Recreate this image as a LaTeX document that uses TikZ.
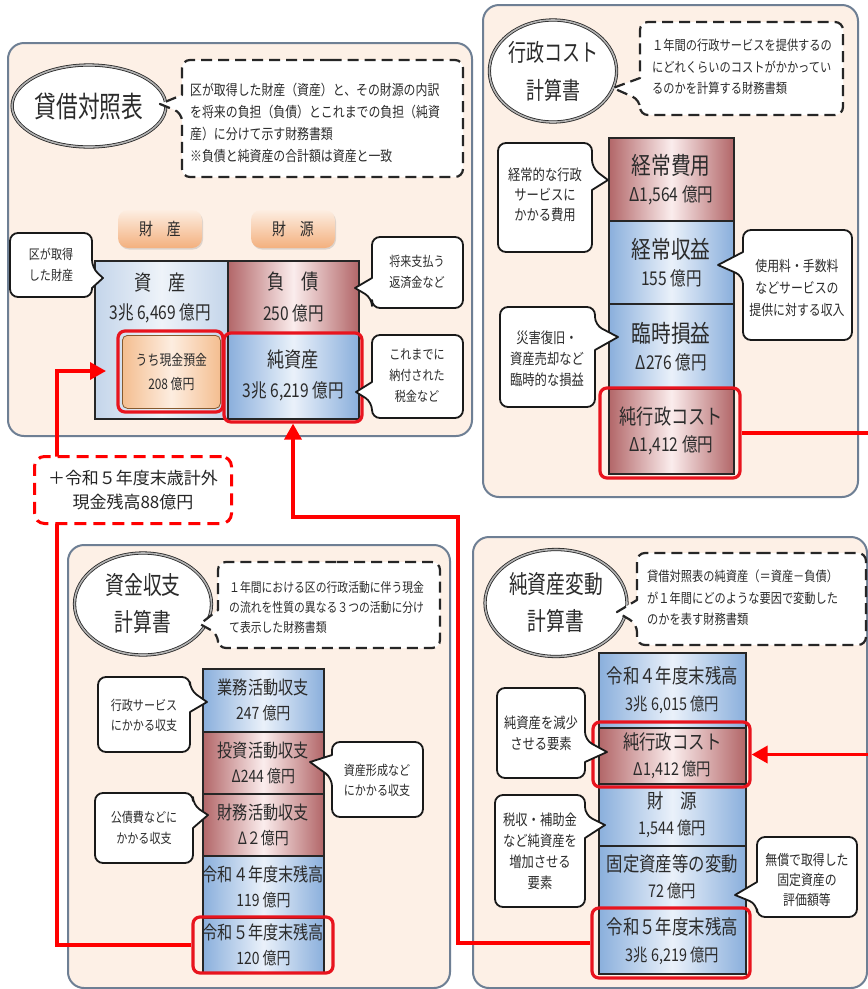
\documentclass[tikz,border=0pt]{standalone}
\usepackage{fontspec}
\setmainfont{Noto Sans CJK JP}[FakeStretch=0.82]
\newfontfamily\titlefont{Noto Sans CJK JP}[FakeStretch=0.75]
\newfontfamily\plainfont{Noto Sans CJK JP}
\usetikzlibrary{shapes.geometric,arrows.meta,shadows,calc,fit}
\definecolor{panelfill}{HTML}{FDF0E6}
\definecolor{panelline}{HTML}{6E7F94}
\definecolor{bluedark}{HTML}{8AAFDC}
\definecolor{bluelight}{HTML}{EAF1FA}
\definecolor{lblued}{HTML}{C4D5EA}
\definecolor{lbluel}{HTML}{EEF3F9}
\definecolor{reddark}{HTML}{B26668}
\definecolor{redlight}{HTML}{FBEDED}
\definecolor{tagtop}{HTML}{FDEEE2}
\definecolor{tagbot}{HTML}{F3B07E}
\definecolor{cashdark}{HTML}{F4BE90}
\definecolor{cashlight}{HTML}{FDEDE0}
\definecolor{txt}{HTML}{2B2B2B}
\definecolor{framered}{HTML}{E8141E}
\newcommand\fs[2]{\fontsize{#1}{#2}\selectfont}
% callout with tail on the right side
\newcommand\calloutR[9][callbox]{%
  \draw[#1, rounded corners=8pt] ({(#2+#4)/2},#3) -- (#4,#3) -- (#4,#6) [sharp corners] -- (#8,#9) -- (#4,#7) [rounded corners=8pt] -- (#4,#5) -- (#2,#5) -- (#2,#3) -- cycle;}
% callout with tail on the left side
\newcommand\calloutL[9][callbox]{%
  \draw[#1, rounded corners=8pt] ({(#2+#4)/2},#3) -- (#4,#3) -- (#4,#5) -- (#2,#5) -- (#2,#7) [sharp corners] -- (#8,#9) -- (#2,#6) [rounded corners=8pt] -- (#2,#3) -- cycle;}
\tikzset{
  panel/.style={draw=panelline, line width=2pt, fill=panelfill, rounded corners=16pt},
  titleell/.style={ellipse, draw=black!85, line width=0.8pt, double=black!30, double distance=1.6pt, fill=white, inner sep=0pt, align=center, text=txt},
  dashbox/.style={draw=black!85, line width=2.2pt, dash pattern=on 11pt off 6pt, fill=white, line join=round},
  callbox/.style={draw=black!90, line width=1.8pt, fill=white, line join=round},
  ctext/.style={align=center, text=txt, inner sep=0pt},
  dtext/.style={align=left, text=txt, inner sep=0pt, anchor=west},
  stackbox/.style={rectangle, draw=black!85, line width=1.6pt, inner sep=0pt, align=center, text=txt, anchor=north west},
  bluebox/.style={stackbox, left color=bluedark, right color=bluedark, middle color=bluelight},
  lbluebox/.style={stackbox, left color=lblued, right color=lblued, middle color=lbluel},
  redbox/.style={stackbox, left color=reddark, right color=reddark, middle color=redlight},
  tagbox/.style={rectangle, rounded corners=10pt, top color=tagtop, bottom color=tagbot, draw=none, text=txt, drop shadow={opacity=0.25, shadow xshift=1pt, shadow yshift=-1.5pt}, font=\fs{17}{20}},
  cashbox/.style={rectangle, rounded corners=5pt, draw=brown!70!black, line width=0.8pt, left color=cashdark, right color=cashdark, middle color=cashlight, align=center, text=txt, inner sep=0pt, anchor=north west},
  redframe/.style={rectangle, draw=framered, line width=3.2pt, rounded corners=7pt, inner sep=0pt},
  redarrow/.style={draw=red, line width=3.5pt, -{Triangle[length=16pt,width=17pt]}},
  reddash/.style={rectangle, draw=red, line width=3pt, dash pattern=on 12pt off 7pt, rounded corners=10pt, fill=white, align=center, font=\plainfont\fs{17}{24}, text=black!85, anchor=north west}
}
\begin{document}
\begin{tikzpicture}[x=1pt,y=-1pt]
\clip (0,0) rectangle (868,989);
\fill[white] (0,0) rectangle (868,989);

%================ Balance sheet =================
\draw[panel] (8,43) rectangle (472,436);
\node[titleell, minimum width=148pt, minimum height=82pt, font=\titlefont\fs{29}{32}] (bsTitle) at (89,106) {貸借対照表};
\calloutL[dashbox]{182}{60}{463}{177}{95}{113}{160}{104}
\node[dtext, font=\fs{14.5}{22}] (bsDesc) at (190,123) {区が取得した財産（資産）と、その財源の内訳\\を将来の負担（負債）とこれまでの負担（純資\\産）に分けて示す財務書類\\※負債と純資産の合計額は資産と一致};
\node[tagbox, minimum width=84pt, minimum height=38pt] (tagA) at (160,229) {財　産};
\node[tagbox, minimum width=84pt, minimum height=38pt] (tagB) at (293,229) {財　源};
\node[lbluebox, minimum width=133pt, minimum height=158pt] (bsAsset) at (94,260) {};
\node[ctext, font=\fs{19}{29}] (bsAssetT) at (160,298) {{\fs{21}{29}資　産}\\3兆 6,469 億円};
\node[redbox, minimum width=131pt, minimum height=72pt, font=\fs{19}{31}] (bsLiab) at (227,260) {{\fs{21}{31}負　債}\\250 億円};
\node[bluebox, minimum width=131pt, minimum height=86pt, font=\fs{19}{30}] (bsNet) at (227,332) {{\fs{21}{30}純資産}\\3兆 6,219 億円};
\node[cashbox, minimum width=98pt, minimum height=73pt, font=\fs{14.5}{24}] (bsCash) at (122,335) {うち現金預金\\208 億円};
\node[redframe, fit={(118,331) (223,412)}] (bsCashF) {};
\node[redframe, fit={(224,333) (362,422)}] (bsNetF) {};
\calloutR{10}{233}{92}{297}{268}{288}{103}{278}
\node[ctext, font=\fs{13.5}{21}] (bsC1) at (51,265) {区が取得\\した財産};
\calloutL{372}{237}{463}{308}{278}{298}{355}{288}
\node[ctext, font=\fs{13.5}{21}] (bsC2) at (417,272) {将来支払う\\返済金など};
\calloutL{372}{335}{463}{418}{382}{402}{356}{392}
\node[ctext, font=\fs{13.5}{21}] (bsC3) at (417,376) {これまでに\\納付された\\税金など};

%================ Cost statement =================
\draw[panel] (483,5) rectangle (858,497);
\node[titleell, minimum width=120pt, minimum height=102pt, font=\titlefont\fs{24}{38}] (costTitle) at (553,71) {行政コスト\\計算書};
\calloutL[dashbox]{640}{22}{843}{115}{78}{100}{613}{88}
\node[dtext, font=\fs{13.7}{21.5}] (costDesc) at (652,67) {１年間の行政サービスを提供するの\\にどれくらいのコストがかかってい\\るのかを計算する財務書類};
\node[redbox, minimum width=125pt, minimum height=83pt, font=\fs{19}{27}] (cost1) at (608,137) {{\fs{24}{27}経常費用}\\Δ1,564 億円};
\node[bluebox, minimum width=125pt, minimum height=83pt, font=\fs{19}{27}] (cost2) at (608,220) {{\fs{24}{27}経常収益}\\155 億円};
\node[bluebox, minimum width=125pt, minimum height=85pt, font=\fs{19}{27}] (cost3) at (608,303) {{\fs{24}{27}臨時損益}\\Δ276 億円};
\node[redbox, minimum width=125pt, minimum height=85pt, font=\fs{19}{27}] (cost4) at (608,388) {{\fs{21}{27}純行政コスト}\\Δ1,412 億円};
\node[redframe, fit={(600,388) (740,478)}] (cost4F) {};
\calloutR{498}{143}{592}{252}{168}{190}{608}{180}
\node[ctext, font=\fs{15}{20}] (costC1) at (545,195) {経常的な行政\\サービスに\\かかる費用};
\calloutL{743}{230}{852}{340}{252}{276}{718}{265}
\node[ctext, font=\fs{14.5}{22}] (costC2) at (797,288) {使用料・手数料\\などサービスの\\提供に対する収入};
\calloutR{500}{307}{595}{407}{325}{350}{618}{337}
\node[ctext, font=\fs{15}{21}] (costC3) at (547,359) {災害復旧・\\資産売却など\\臨時的な損益};

%================ Cash flow statement =================
\draw[panel] (68,545) rectangle (450,988);
\node[titleell, minimum width=137pt, minimum height=102pt, font=\titlefont\fs{25}{37}] (cfTitle) at (143,604) {資金収支\\計算書};
\calloutL[dashbox]{218}{562}{440}{648}{610}{634}{200}{624}
\node[dtext, font=\fs{13.2}{20}] (cfDesc) at (229,607) {１年間における区の行政活動に伴う現金\\の流れを性質の異なる３つの活動に分け\\て表示した財務書類};
\node[bluebox, minimum width=121pt, minimum height=63pt, font=\fs{17}{25}] (cf1) at (202,668) {{\fs{18.5}{25}業務活動収支}\\247 億円};
\node[redbox, minimum width=121pt, minimum height=62pt, font=\fs{17}{25}] (cf2) at (202,731) {{\fs{18.5}{25}投資活動収支}\\Δ244 億円};
\node[redbox, minimum width=121pt, minimum height=62pt, font=\fs{17}{25}] (cf3) at (202,793) {{\fs{18.5}{25}財務活動収支}\\Δ２億円};
\node[bluebox, minimum width=121pt, minimum height=62pt, font=\fs{17}{25}] (cf4) at (202,855) {{\fs{18.5}{25}令和４年度末残高}\\119 億円};
\node[bluebox, minimum width=121pt, minimum height=55pt, font=\fs{17}{25}] (cf5) at (202,917) {{\fs{18.5}{25}令和５年度末残高}\\120 億円};
\node[redframe, fit={(193,917) (333,973)}] (cf5F) {};
\calloutR{98}{677}{190}{752}{690}{712}{207}{702}
\node[ctext, font=\fs{13.5}{20}] (cfC1) at (144,715) {行政サービス\\にかかる収支};
\calloutL{332}{742}{423}{817}{755}{778}{310}{762}
\node[ctext, font=\fs{13.5}{20}] (cfC2) at (377,780) {資産形成など\\にかかる収支};
\calloutR{95}{793}{193}{863}{805}{828}{208}{815}
\node[ctext, font=\fs{13.5}{21}] (cfC3) at (144,828) {公債費などに\\かかる収支};

%================ Net assets statement =================
\draw[panel] (473,537) rectangle (867,988);
\node[titleell, minimum width=142pt, minimum height=107pt, font=\titlefont\fs{25}{37}] (naTitle) at (556,603) {純資産変動\\計算書};
\calloutL[dashbox]{637}{553}{866}{645}{600}{624}{617}{612}
\node[dtext, font=\fs{13.7}{21.5}] (naDesc) at (647,598) {貸借対照表の純資産（＝資産－負債）\\が１年間にどのような要因で変動した\\のかを表す財務書類};
\node[bluebox, minimum width=147pt, minimum height=75pt, font=\fs{17.5}{27}] (na1) at (598,652) {{\fs{20}{27}令和４年度末残高}\\3兆 6,015 億円};
\node[redbox, minimum width=147pt, minimum height=56pt, font=\fs{17.5}{26}] (na2) at (598,727) {{\fs{20}{26}純行政コスト}\\Δ1,412 億円};
\node[bluebox, minimum width=147pt, minimum height=62pt, font=\fs{17.5}{26}] (na3) at (598,783) {{\fs{20}{26}財　源}\\1,544 億円};
\node[bluebox, minimum width=147pt, minimum height=62pt, font=\fs{17.5}{26}] (na4) at (598,845) {{\fs{20}{26}固定資産等の変動}\\72 億円};
\node[bluebox, minimum width=147pt, minimum height=66pt, font=\fs{17.5}{27}] (na5) at (598,907) {{\fs{20}{27}令和５年度末残高}\\3兆 6,219 億円};
\node[redframe, fit={(593,722) (750,787)}] (na2F) {};
\node[redframe, fit={(592,908) (750,978)}] (na5F) {};
\calloutR{497}{688}{585}{778}{740}{762}{607}{752}
\node[ctext, font=\fs{15}{21}] (naC1) at (541,733) {純資産を減少\\させる要素};
\calloutR{495}{795}{585}{907}{815}{838}{605}{825}
\node[ctext, font=\fs{15}{21}] (naC2) at (540,851) {税収・補助金\\など純資産を\\増加させる\\要素};
\calloutL{757}{837}{857}{917}{882}{904}{735}{895}
\node[ctext, font=\fs{14.5}{20}] (naC3) at (807,880) {無償で取得した\\固定資産の\\評価額等};

%================ Red connectors =================
\coordinate (cashTip) at (106,371);
\coordinate (turnA) at (57,371);
\coordinate (turnB) at (458,517);
\coordinate (turnC) at (890,433);
\draw[redarrow] (cf5F.west) -| (turnA) -- (cashTip);
\draw[redarrow] (na5F.west) -| (turnB) -| (bsNetF.south);
\draw[redarrow] (cost4F.east) -- (turnC) |- (na2F.east);
\node[reddash, minimum width=197pt, minimum height=67pt] (extra) at (33,455) {＋令和５年度末歳計外\\現金残高88億円};
\end{tikzpicture}
\end{document}
